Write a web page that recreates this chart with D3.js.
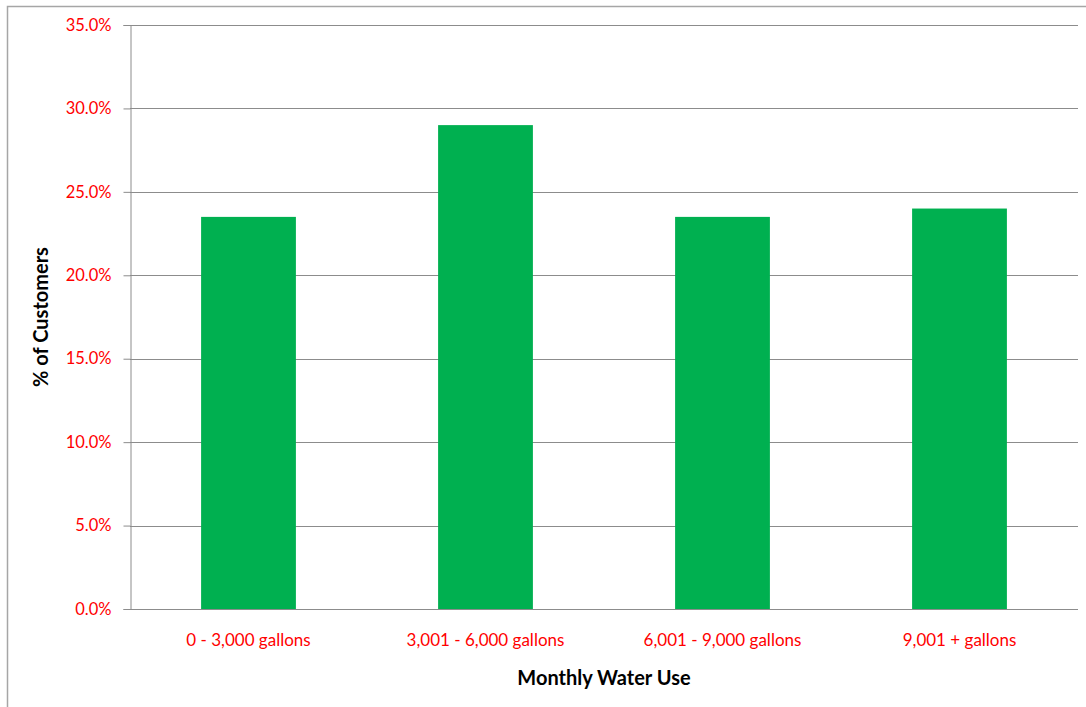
<!DOCTYPE html>
<html>
<head>
<meta charset="utf-8">
<script src="https://cdn.jsdelivr.net/npm/d3@7"></script>
<style>
  html, body { margin: 0; padding: 0; background: #fff; }
  svg { display: block; }
  text { font-family: Lato, "Noto Sans", sans-serif; }
</style>
</head>
<body>
<div id="chart"></div>
<script>
// Share of customers by monthly water use bracket
const categories = ["0 - 3,000 gallons", "3,001 - 6,000 gallons", "6,001 - 9,000 gallons", "9,001 + gallons"];
const percentValues = [23.5, 29.0, 23.5, 24.0];
const yTickValues = [0, 5, 10, 15, 20, 25, 30, 35];

const W = 1086, H = 707;
const plot = { left: 130, right: 1078, top: 25, bottom: 609 };

const svg = d3.select("#chart").append("svg")
  .attr("width", W).attr("height", H);

// Chart frame
svg.append("rect")
  .attr("x", 7.5).attr("y", 6.5)
  .attr("width", W + 20).attr("height", H + 20)
  .attr("fill", "#fff")
  .attr("stroke", "#a6a6a6").attr("stroke-width", 1.5);

const x = d3.scaleBand()
  .domain(categories)
  .range([plot.left, plot.right])
  .paddingInner(0.6)
  .paddingOuter(0.3);

const y = d3.scaleLinear()
  .domain([0, 35])
  .range([plot.bottom, plot.top]);

// Horizontal gridlines
svg.append("g")
  .selectAll("line")
  .data(yTickValues.filter(d => d > 0))
  .join("line")
  .attr("x1", plot.left).attr("x2", plot.right)
  .attr("y1", d => Math.round(y(d)) + 0.5).attr("y2", d => Math.round(y(d)) + 0.5)
  .attr("stroke", "#8c8c8c").attr("stroke-width", 1);

// Bars
svg.append("g")
  .selectAll("rect")
  .data(percentValues)
  .join("rect")
  .attr("x", (d, i) => x(categories[i]))
  .attr("width", x.bandwidth())
  .attr("y", d => y(d))
  .attr("height", d => y(0) - y(d))
  .attr("fill", "#00b050");

// Y axis
const yAxis = svg.append("g")
  .attr("transform", `translate(${plot.left + 0.5},0)`)
  .call(d3.axisLeft(y)
    .tickValues(yTickValues)
    .tickSize(7)
    .tickPadding(12)
    .tickFormat(d => d.toFixed(1) + "%"));
yAxis.select(".domain").attr("stroke", "#8c8c8c");
yAxis.selectAll(".tick line").attr("stroke", "#8c8c8c");
yAxis.selectAll(".tick text")
  .attr("fill", "#ff0000")
  .style("font-size", "16.5px")
  .style("font-family", "Lato, 'Noto Sans', sans-serif");

// X axis
const xAxis = svg.append("g")
  .attr("transform", `translate(0,${plot.bottom + 0.5})`)
  .call(d3.axisBottom(x).tickSize(0).tickPadding(24));
xAxis.select(".domain")
  .attr("d", `M${plot.left},0H${plot.right}`)
  .attr("stroke", "#8c8c8c");
xAxis.selectAll(".tick text")
  .attr("fill", "#ff0000")
  .style("font-size", "17px")
  .style("font-family", "Lato, 'Noto Sans', sans-serif");

// Axis titles
svg.append("text")
  .attr("x", (plot.left + plot.right) / 2)
  .attr("y", 685)
  .attr("text-anchor", "middle")
  .attr("font-size", 20)
  .attr("font-weight", "bold")
  .attr("fill", "#000")
  .text("Monthly Water Use");

svg.append("text")
  .attr("transform", `translate(48,${(plot.top + plot.bottom) / 2}) rotate(-90)`)
  .attr("text-anchor", "middle")
  .attr("font-size", 20)
  .attr("font-weight", "bold")
  .attr("fill", "#000")
  .text("% of Customers");
</script>
</body>
</html>
